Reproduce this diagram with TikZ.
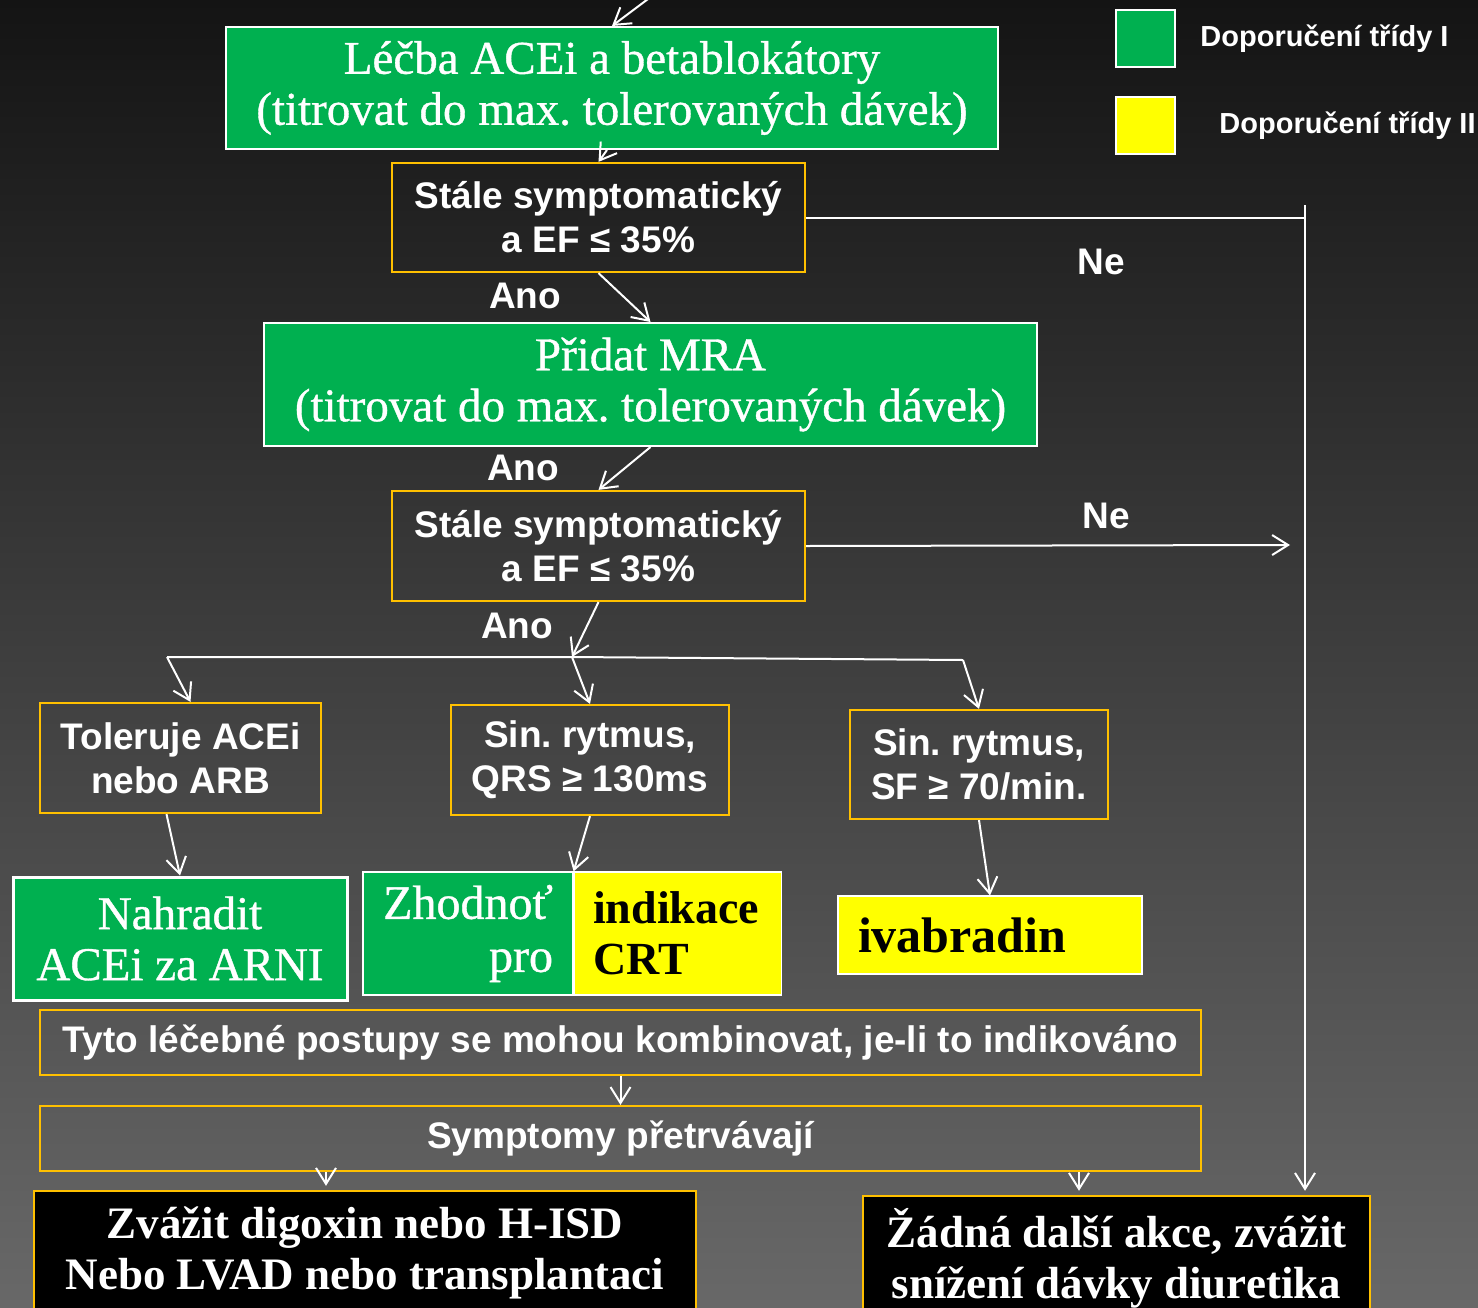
\documentclass[tikz,border=0pt]{standalone}
\usepackage{fontspec}
\setmainfont{Liberation Serif}
\setsansfont{Liberation Sans}
\newfontfamily\heavyserif{Liberation Serif}[FakeBold=0.8]
\usetikzlibrary{arrows.meta, positioning, calc}
\frenchspacing

\definecolor{recgreen}{HTML}{00B050}
\definecolor{recyellow}{HTML}{FFFF00}
\definecolor{boxgold}{HTML}{FFC000}
\definecolor{bgtop}{HTML}{141414}
\definecolor{bgmid}{HTML}{505050}
\definecolor{bgbottom}{HTML}{686868}

\newcommand{\boxserif}{\heavyserif\fontsize{23.5}{25.5}\selectfont}
\newcommand{\boxserifbf}{\rmfamily\bfseries\fontsize{22.5}{25.5}\selectfont}
\newcommand{\yellowserif}{\rmfamily\bfseries\fontsize{23}{25.5}\selectfont}
\newcommand{\ivaserif}{\rmfamily\bfseries\fontsize{25}{27}\selectfont}
\newcommand{\boxsans}{\sffamily\bfseries\fontsize{18.5}{22}\selectfont}
\newcommand{\legendsans}{\sffamily\bfseries\fontsize{14.5}{17}\selectfont}

\begin{document}
\begin{tikzpicture}[
    x=0.5pt, y=-0.5pt,
    >={Straight Barb[length=8pt, width=10pt]},
    treat/.style={rectangle, draw=white, line width=1pt, fill=recgreen, text=white,
                  font=\boxserif, align=center, inner sep=0pt},
    query/.style={rectangle, draw=boxgold, line width=1.1pt, text=white,
                  font=\boxsans, align=center, inner sep=0pt},
    addbox/.style={rectangle, draw=white, line width=0.6pt, inner sep=0pt},
    outcome/.style={rectangle, draw=boxgold, line width=1.2pt, fill=black, text=white,
                    font=\boxserifbf, align=center, inner sep=0pt},
    answer/.style={text=white, font=\boxsans, inner sep=0pt},
    flow/.style={draw=white, line width=1pt, ->}
]
\clip (0,0) rectangle (1478,1307);
\shade[top color=bgtop, middle color=bgmid, bottom color=bgbottom] (0,0) rectangle (1478,1307);

% main column
\node[treat, minimum width=386pt, minimum height=61pt] (ace) at (612,88)
    {Léčba ACEi a betablokátory\\(titrovat do max. tolerovaných dávek)};
\node[query, minimum width=206.5pt, minimum height=54.5pt] (q1) at (598.5,217.5)
    {Stále symptomatický\\a EF ≤ 35\%};
\node[treat, minimum width=386.5pt, minimum height=61.5pt] (mra) at (650.5,384.5)
    {Přidat MRA\\(titrovat do max. tolerovaných dávek)};
\node[query, minimum width=206.5pt, minimum height=55pt] (q2) at (598.5,546)
    {Stále symptomatický\\a EF ≤ 35\%};

% three branches
\node[query, minimum width=140.5pt, minimum height=55pt] (tol) at (180.5,758) {Toleruje ACEi\\nebo ARB};
\node[query, minimum width=139pt, minimum height=55pt] (qrs) at (590,760) {Sin. rytmus,\\QRS ≥ 130ms};
\node[query, minimum width=129pt, minimum height=54.5pt] (sf) at (979,764.5) {Sin. rytmus,\\SF ≥ 70/min.};

\node[treat, line width=1.5pt, minimum width=167pt, minimum height=61.5pt] (arni) at (180,938.5)
    {Nahradit\\ACEi za ARNI};
\node[treat, line width=0.6pt, align=right, text width=85pt, inner xsep=10pt,
      minimum height=61.5pt, font=\heavyserif\fontsize{24}{26.5}\selectfont] (crtg) at (468,933.5) {Zhodnoť\\pro};
\node[addbox, fill=recyellow, text=black, font=\yellowserif, align=left, text width=84.5pt,
      inner xsep=9.5pt, minimum height=61.5pt, right=0pt of crtg] (crty) {indikace\\CRT};
\node[addbox, fill=recyellow, text=black, font=\ivaserif, align=left, text width=132pt,
      inner xsep=10pt, minimum height=39pt] (iva) at (990,935) {ivabradin};

% lower part
\node[query, minimum width=580.5pt, minimum height=32.5pt] (comb) at (620.5,1042.5)
    {Tyto léčebné postupy se mohou kombinovat, je-li to indikováno};
\node[query, minimum width=580.5pt, minimum height=32.5pt] (persist) at (620.5,1138.5)
    {Symptomy přetrvávají};
\node[outcome, minimum width=331pt, minimum height=62pt] (dig) at (365,1253)
    {Zvážit digoxin nebo H-ISD\\Nebo LVAD nebo transplantaci};
\node[outcome, minimum width=253.5pt, minimum height=62pt] (none) at (1116.5,1258)
    {Žádná další akce, zvážit\\snížení dávky diuretika};

% legend
\node[addbox, line width=1pt, fill=recgreen, minimum width=29.5pt, minimum height=28.5pt] (leg1) at (1145.5,38.5) {};
\node[answer, font=\legendsans, right=12pt of leg1] (leg1txt) {Doporučení třídy I};
\node[addbox, line width=1pt, fill=recyellow, minimum width=29.5pt, minimum height=28.5pt] (leg2) at (1145.5,125.5) {};
\node[answer, font=\legendsans, right=21.5pt of leg2] (leg2txt) {Doporučení třídy II};

% answers
\node[answer] (ne1) at (1101,262) {Ne};
\node[answer] (ne2) at (1106,516) {Ne};
\node[answer] (ano1) at (525,296) {Ano};
\node[answer] (ano2) at (523,468) {Ano};
\node[answer] (ano3) at (517,626) {Ano};

\coordinate (entry) at (652,-4);
\coordinate (rt) at (1305,205);
\coordinate (q2out) at (1290,545);
\coordinate (split) at (572,657);
\coordinate (bl) at (167,657);
\coordinate (br) at (963,660);
\coordinate (xd) at (326,0);
\coordinate (xn) at (1079,0);

\draw[flow] (entry) -- (ace.north);
\draw[flow] ([xshift=-2.5pt]ace.south) -- (q1.north);
\draw[flow] (q1.south) -- (mra.north);
\draw[flow] (mra.south) -- (q2.north);
\draw[flow] (q2.south) -- (split);
\draw[white, line width=1pt] (bl) -- (split) -- (br);
\draw[flow] (bl) -- ([xshift=5pt]tol.north);
\draw[flow] (split) -- (qrs.north);
\draw[flow] (br) -- (sf.north);
\draw[flow] ([xshift=-7pt]tol.south) -- (arni.north);
\draw[flow] (qrs.south) -- (crtg.north east);
\draw[flow] (sf.south) -- (iva.north);
\draw[flow] (comb.south) -- (persist.north);
\draw[flow] (persist.south -| xd) -- ([yshift=2pt]dig.north -| xd);
\draw[flow] (persist.south -| xn) -- ([yshift=2pt]none.north -| xn);
\draw[white, line width=1pt] (q1.east) -- (q1.east -| rt);
\draw[flow] (rt) -- ([yshift=2pt]rt |- none.north);
\draw[flow] (q2.east) -- (q2out);

\end{tikzpicture}
\end{document}
